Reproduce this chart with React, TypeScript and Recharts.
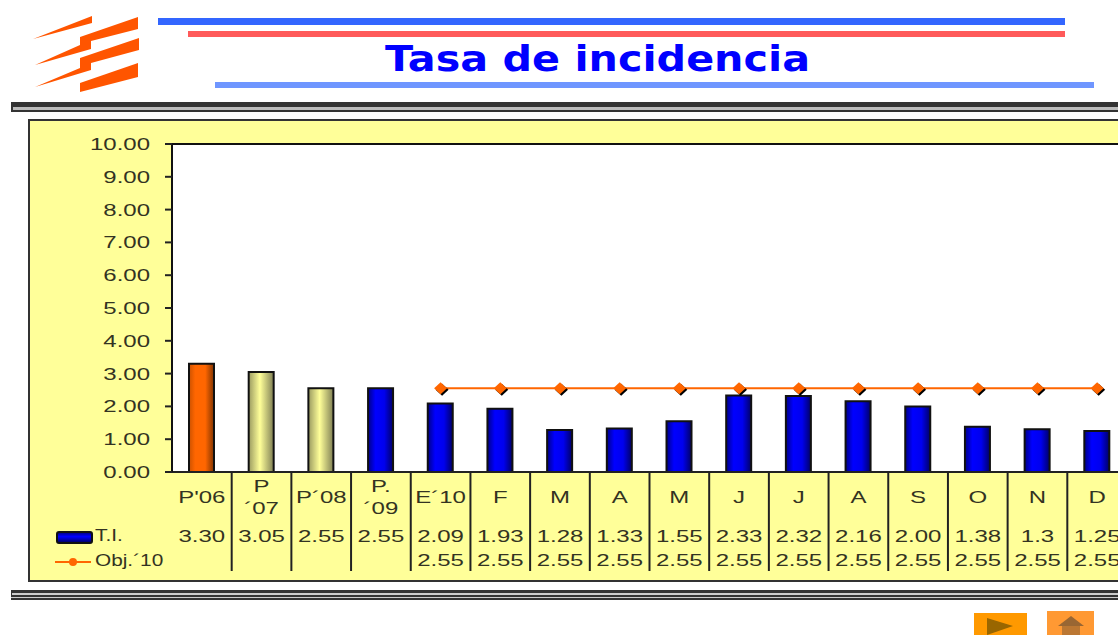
import React from "react";
import { ComposedChart, Bar, Line, XAxis, YAxis, CartesianGrid, Cell, Legend, ReferenceLine } from "recharts";

const categories = ["P'06", "P\n´07", "P´08", "P.\n´09", "E´10", "F", "M", "A", "M", "J", "J", "A", "S", "O", "N", "D"];
const tiValues = [3.3, 3.05, 2.55, 2.55, 2.09, 1.93, 1.28, 1.33, 1.55, 2.33, 2.32, 2.16, 2.0, 1.38, 1.3, 1.25];
const tiLabels = ["3.30", "3.05", "2.55", "2.55", "2.09", "1.93", "1.28", "1.33", "1.55", "2.33", "2.32", "2.16", "2.00", "1.38", "1.3", "1.25"];
const objValues = [null, null, null, null, 2.55, 2.55, 2.55, 2.55, 2.55, 2.55, 2.55, 2.55, 2.55, 2.55, 2.55, 2.55];
const barFills = ["url(#gOrange)", "url(#gPale)", "url(#gPale)", "url(#gBlue)", "url(#gBlue)", "url(#gBlue)", "url(#gBlue)", "url(#gBlue)", "url(#gBlue)", "url(#gBlue)", "url(#gBlue)", "url(#gBlue)", "url(#gBlue)", "url(#gBlue)", "url(#gBlue)", "url(#gBlue)"];
const yTicks = [0, 1, 2, 3, 4, 5, 6, 7, 8, 9, 10];

const data = categories.map((category, i) => ({ category, ti: tiValues[i], obj: objValues[i] }));

const TEXT = "#333322";
const FONT = "'Liberation Sans', Arial, sans-serif";
const STEP = 955 / 16;

function Stretched({ x, y, anchor = "middle", children }: any) {
  return (
    <text
      transform={`translate(${x},${y}) scale(1.5,1)`}
      textAnchor={anchor}
      fontFamily={FONT}
      fontSize={16}
      fill={TEXT}
    >
      {children}
    </text>
  );
}

function XTick({ x, payload, index }: any) {
  const lines = String(payload.value).split("\n");
  const base = 472;
  return (
    <g>
      {index < categories.length - 1 && (
        <line x1={x + STEP / 2} x2={x + STEP / 2} y1={base} y2={571} stroke="#222" strokeWidth={2} />
      )}
      {lines.length === 1 ? (
        <Stretched x={x} y={base + 31}>{lines[0]}</Stretched>
      ) : (
        <>
          <Stretched x={x} y={base + 20}>{lines[0]}</Stretched>
          <Stretched x={x} y={base + 42}>{lines[1]}</Stretched>
        </>
      )}
      <Stretched x={x} y={base + 70}>{tiLabels[index]}</Stretched>
      {objValues[index] != null && <Stretched x={x} y={base + 94}>{objValues[index]!.toFixed(2)}</Stretched>}
    </g>
  );
}

function YTick({ x, y, payload }: any) {
  return <Stretched x={x - 13} y={y + 6} anchor="end">{Number(payload.value).toFixed(2)}</Stretched>;
}

function Diamond({ cx, cy, index }: any) {
  if (cx == null || cy == null || objValues[index] == null) return <g key={index} />;
  const pts = (dx: number, dy: number) =>
    `${cx + dx},${cy + dy - 6} ${cx + dx + 6.5},${cy + dy} ${cx + dx},${cy + dy + 6} ${cx + dx - 6.5},${cy + dy}`;
  return (
    <g key={index}>
      <polygon points={pts(1.5, 1.5)} fill="#000" />
      <polygon points={pts(0, 0)} fill="#ff6600" />
    </g>
  );
}

function LegendBox() {
  const label: React.CSSProperties = {
    position: "absolute",
    left: 40,
    fontFamily: FONT,
    fontSize: 16,
    lineHeight: "18px",
    color: TEXT,
    transform: "scaleX(1.3)",
    transformOrigin: "left center",
    whiteSpace: "nowrap",
  };
  return (
    <div style={{ position: "relative", width: 125, height: 50 }}>
      <div style={{ position: "absolute", left: 1, top: 5, width: 33, height: 9, borderRadius: 3, border: "2px solid #111", background: "linear-gradient(#000090,#0000ff 40%,#000070)" }} />
      <div style={{ ...label, top: 1 }}>T.I.</div>
      <div style={{ position: "absolute", left: 0, top: 35, width: 36, height: 2, background: "#ff6600" }} />
      <div style={{ position: "absolute", left: 14, top: 32, width: 8, height: 8, borderRadius: 4, background: "#ff6600" }} />
      <div style={{ ...label, top: 26 }}>Obj.´10</div>
    </div>
  );
}

export default function App() {
  return (
    <div style={{ position: "absolute", left: 0, top: 0, width: 1118, height: 635, overflow: "hidden", background: "#fff" }}>
      <svg width={1118} height={635} style={{ position: "absolute", left: 0, top: 0 }}>
        <g fill="#ff5500">
          <polygon points="33,39 92,16 92,23" />
          <polygon points="35,65 80,45 80,37 138,17 138,29 91,41 91,49" />
          <polygon points="35,87 80,68 80,58 139,38 139,50 91,63 91,70" />
          <polygon points="80,92 80,83 138,63 138,77" />
        </g>
        <rect x={158} y={18} width={907} height={7} fill="#3366ff" />
        <rect x={188} y={31} width={877} height={6} fill="#ff5a5a" />
        <rect x={215} y={82} width={879} height={6} fill="#6f96ff" />
        <text x={385} y={71} textLength={425} lengthAdjust="spacingAndGlyphs" fontFamily="'DejaVu Sans', sans-serif" fontWeight={700} fontSize={36} fill="#0000ff">
          Tasa de incidencia
        </text>
        <rect x={11} y={102} width={1107} height={10} fill="#333" />
        <rect x={13} y={107} width={1105} height={3} fill="#bbb" />
        <rect x={11} y={590} width={1107} height={10} fill="#333" />
        <rect x={12} y={593} width={1106} height={2} fill="#ccc" />
        <rect x={11} y={597} width={1107} height={1} fill="#ccc" />
        <rect x={29} y={120} width={1095} height={461} fill="#ffff99" stroke="#333" strokeWidth={2} />
        <rect x={974} y={613} width={53} height={22} fill="#ff9900" />
        <polygon points="987,618 1013,626 987,635" fill="#996600" />
        <rect x={1047} y={611} width={47} height={24} fill="#ff9933" />
        <polygon points="1071,616 1084,626 1058,626" fill="#996633" />
        <rect x={1062} y={626} width={18} height={9} fill="#bb7733" />
      </svg>
      <div style={{ position: "absolute", left: 0, top: 0 }}>
        <ComposedChart
          width={1127}
          height={635}
          data={data}
          margin={{ top: 144, right: 0, bottom: 0, left: 0 }}
          barCategoryGap="0%"
        >
          <defs>
            <linearGradient id="gBlue" x1="0" y1="0" x2="1" y2="0">
              <stop offset="0" stopColor="#000088" />
              <stop offset="0.3" stopColor="#0000ff" />
              <stop offset="0.65" stopColor="#0000ee" />
              <stop offset="1" stopColor="#000066" />
            </linearGradient>
            <linearGradient id="gPale" x1="0" y1="0" x2="1" y2="0">
              <stop offset="0" stopColor="#9a9a60" />
              <stop offset="0.45" stopColor="#ffff99" />
              <stop offset="1" stopColor="#808055" />
            </linearGradient>
            <linearGradient id="gOrange" x1="0" y1="0" x2="1" y2="0">
              <stop offset="0" stopColor="#cc5200" />
              <stop offset="0.25" stopColor="#ff6600" />
              <stop offset="0.65" stopColor="#ff6600" />
              <stop offset="1" stopColor="#803300" />
            </linearGradient>
          </defs>
          <CartesianGrid horizontal={false} vertical={false} fill="#ffffff" />
          <XAxis
            dataKey="category"
            interval={0}
            height={163}
            axisLine={{ stroke: "#222", strokeWidth: 2 }}
            tickLine={false}
            tick={<XTick />}
          />
          <YAxis
            width={172}
            domain={[0, 10]}
            ticks={yTicks}
            interval={0}
            axisLine={{ stroke: "#111", strokeWidth: 2 }}
            tickLine={{ stroke: "#222", strokeWidth: 2 }}
            tickSize={7}
            tick={<YTick />}
          />
          <ReferenceLine y={10} stroke="#111" strokeWidth={2} />
          <Bar dataKey="ti" name="T.I." barSize={25} stroke="#111" strokeWidth={2} isAnimationActive={false}>
            {data.map((_, i) => (
              <Cell key={i} fill={barFills[i]} />
            ))}
          </Bar>
          <Line dataKey="obj" name="Obj.´10" stroke="#ff6600" strokeWidth={2} dot={<Diamond />} activeDot={false} isAnimationActive={false} />
          <Legend
            layout="horizontal"
            align="center"
            verticalAlign="middle"
            content={<LegendBox />}
            wrapperStyle={{ position: "absolute", left: 55, top: 526, bottom: "auto", width: 125 }}
          />
        </ComposedChart>
      </div>
    </div>
  );
}
